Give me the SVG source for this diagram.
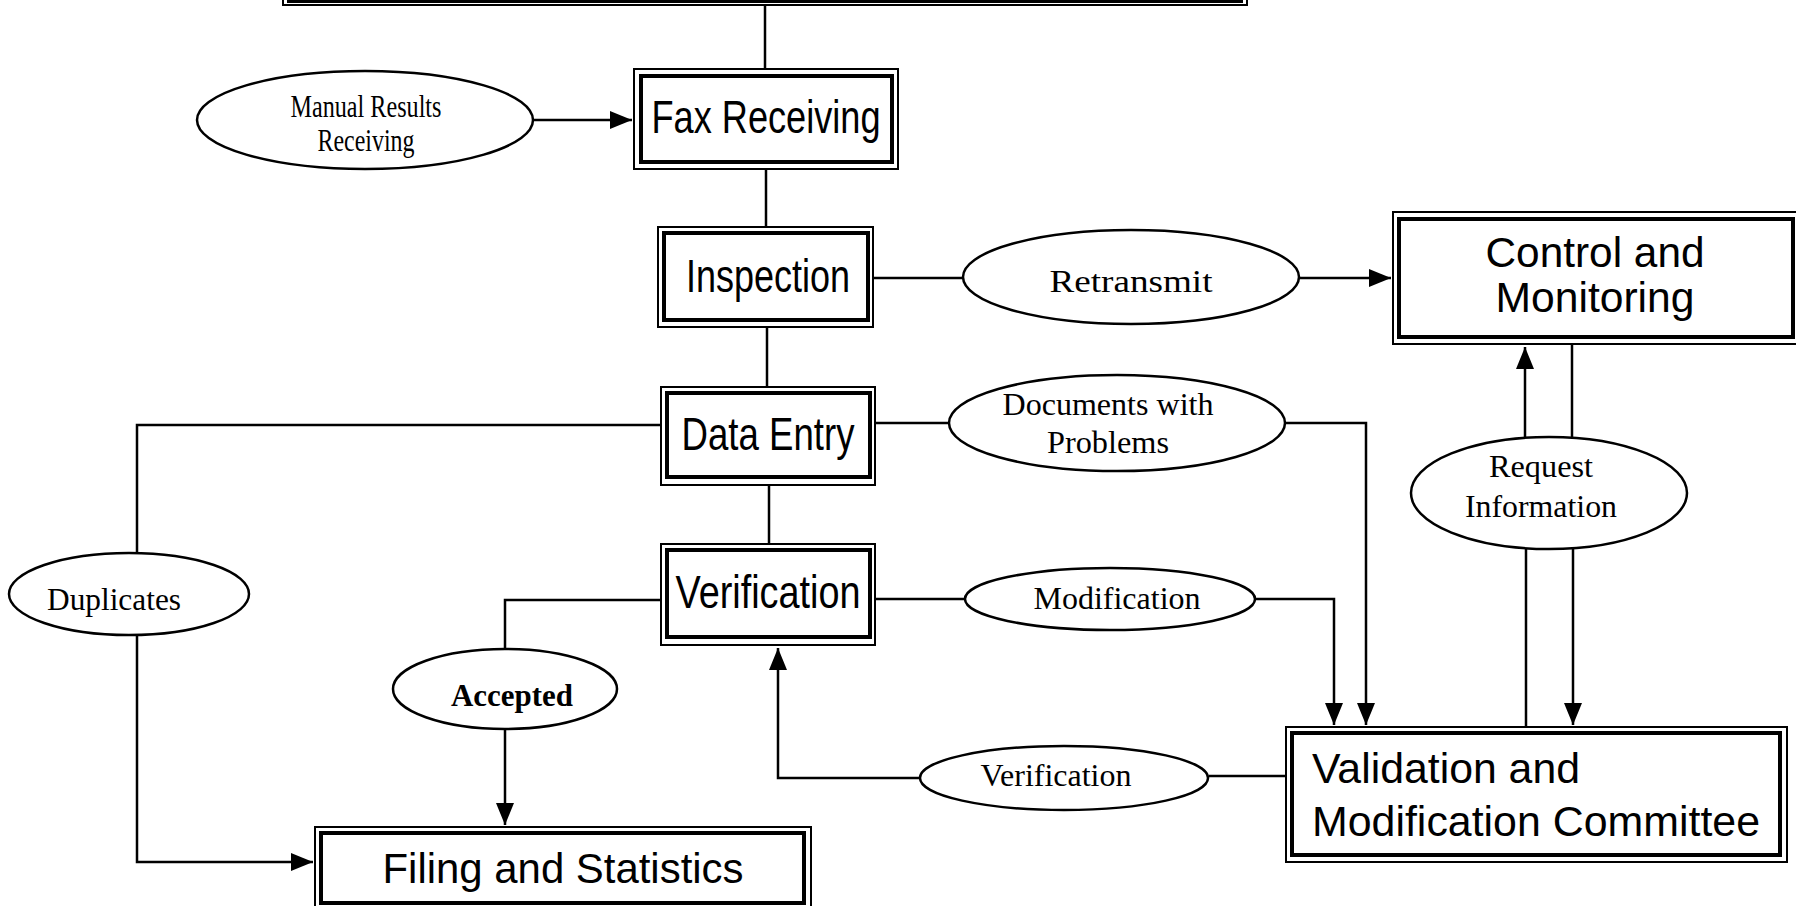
<svg xmlns="http://www.w3.org/2000/svg" width="1796" height="906" viewBox="0 0 1796 906">
<style>
.bo{fill:none;stroke:#000;stroke-width:2}
.bi{fill:none;stroke:#000;stroke-width:4}
.el{fill:#fff;stroke:#000;stroke-width:2.5}
.c{fill:none;stroke:#000;stroke-width:2.5}
.n{font-family:"Liberation Sans Narrow","Liberation Sans",Arial,sans-serif;font-size:46px;fill:#000;text-anchor:middle}
.s{font-family:"Liberation Sans",Arial,sans-serif;font-size:42px;fill:#000}
.t{font-family:"Liberation Serif","Times New Roman",serif;font-size:31px;fill:#000;text-anchor:middle}
</style>
<defs>
<marker id="ah" viewBox="0 0 22 18" refX="22" refY="9" markerWidth="22" markerHeight="18" markerUnits="userSpaceOnUse" orient="auto">
<path d="M0,0 L22,9 L0,18 z" fill="#000"/>
</marker>
</defs>
<rect width="1796" height="906" fill="#fff"/>

<g id="connectors">
<line class="c" x1="765" y1="5" x2="765" y2="69"/>
<line class="c" x1="533" y1="120" x2="632" y2="120" marker-end="url(#ah)"/>
<line class="c" x1="766" y1="169" x2="766" y2="227"/>
<line class="c" x1="767" y1="327" x2="767" y2="387"/>
<line class="c" x1="769" y1="485" x2="769" y2="544"/>
<line class="c" x1="873" y1="278" x2="963" y2="278"/>
<line class="c" x1="1299" y1="278" x2="1391" y2="278" marker-end="url(#ah)"/>
<line class="c" x1="875" y1="423" x2="949" y2="423"/>
<polyline class="c" points="1285,423 1366,423 1366,725" marker-end="url(#ah)"/>
<line class="c" x1="875" y1="599" x2="965" y2="599"/>
<polyline class="c" points="1254,599 1334,599 1334,725" marker-end="url(#ah)"/>
<line class="c" x1="1526" y1="727" x2="1526" y2="549"/>
<line class="c" x1="1525" y1="438" x2="1525" y2="347" marker-end="url(#ah)"/>
<line class="c" x1="1572" y1="344" x2="1572" y2="438"/>
<line class="c" x1="1573" y1="549" x2="1573" y2="725" marker-end="url(#ah)"/>
<line class="c" x1="1286" y1="776" x2="1209" y2="776"/>
<polyline class="c" points="920,778 778,778 778,648" marker-end="url(#ah)"/>
<polyline class="c" points="661,425 137,425 137,553"/>
<polyline class="c" points="137,635 137,862 313,862" marker-end="url(#ah)"/>
<polyline class="c" points="661,600 505,600 505,649"/>
<line class="c" x1="505" y1="730" x2="505" y2="825" marker-end="url(#ah)"/>
</g>

<g id="top-box">
<rect class="bo" x="283" y="-60" width="964" height="65"/>
<rect class="bi" x="289" y="-60" width="952" height="61"/>
</g>

<g id="manual-results">
<ellipse class="el" cx="365" cy="120" rx="168" ry="49"/>
<text class="t" x="366" y="117" font-size="21" textLength="151" lengthAdjust="spacingAndGlyphs">Manual Results</text>
<text class="t" x="366" y="151" font-size="21" textLength="97" lengthAdjust="spacingAndGlyphs">Receiving</text>
</g>

<g id="fax-receiving">
<rect class="bo" x="634" y="69" width="264" height="100"/>
<rect class="bi" x="641" y="76" width="251" height="86"/>
<text class="n" x="766" y="133" textLength="229" lengthAdjust="spacingAndGlyphs">Fax Receiving</text>
</g>

<g id="inspection">
<rect class="bo" x="658" y="227" width="215" height="100"/>
<rect class="bi" x="664" y="233" width="204" height="87"/>
<text class="n" x="768" y="292" textLength="164" lengthAdjust="spacingAndGlyphs">Inspection</text>
</g>

<g id="retransmit">
<ellipse class="el" cx="1131" cy="277" rx="168" ry="47"/>
<text class="t" x="1131" y="292" font-size="35" textLength="163" lengthAdjust="spacingAndGlyphs">Retransmit</text>
</g>

<g id="control-monitoring">
<rect class="bo" x="1393" y="212" width="410" height="132"/>
<rect class="bi" x="1399" y="219" width="394" height="118"/>
<text class="s" x="1595" y="267" text-anchor="middle" textLength="219" lengthAdjust="spacingAndGlyphs">Control and</text>
<text class="s" x="1595" y="312" text-anchor="middle" textLength="199" lengthAdjust="spacingAndGlyphs">Monitoring</text>
</g>

<g id="data-entry">
<rect class="bo" x="661" y="387" width="214" height="98"/>
<rect class="bi" x="667" y="393" width="203" height="84"/>
<text class="n" x="768" y="450" textLength="173" lengthAdjust="spacingAndGlyphs">Data Entry</text>
</g>

<g id="documents-with-problems">
<ellipse class="el" cx="1117" cy="423" rx="168" ry="48"/>
<text class="t" x="1108" y="415" textLength="211" lengthAdjust="spacingAndGlyphs">Documents with</text>
<text class="t" x="1108" y="453" textLength="122" lengthAdjust="spacingAndGlyphs">Problems</text>
</g>

<g id="request-information">
<ellipse class="el" cx="1549" cy="493" rx="138" ry="56"/>
<text class="t" x="1541" y="477" textLength="104" lengthAdjust="spacingAndGlyphs">Request</text>
<text class="t" x="1541" y="517" textLength="152" lengthAdjust="spacingAndGlyphs">Information</text>
</g>

<g id="duplicates">
<ellipse class="el" cx="129" cy="594" rx="120" ry="41"/>
<text class="t" x="114" y="610" font-size="32" textLength="134" lengthAdjust="spacingAndGlyphs">Duplicates</text>
</g>

<g id="verification">
<rect class="bo" x="661" y="544" width="214" height="101"/>
<rect class="bi" x="667" y="550" width="203" height="87"/>
<text class="n" x="768" y="608" textLength="185" lengthAdjust="spacingAndGlyphs">Verification</text>
</g>

<g id="modification">
<ellipse class="el" cx="1110" cy="599" rx="145" ry="31"/>
<text class="t" x="1117" y="609" textLength="167" lengthAdjust="spacingAndGlyphs">Modification</text>
</g>

<g id="accepted">
<ellipse class="el" cx="505" cy="689" rx="112" ry="40"/>
<text class="t" x="512" y="706" font-weight="bold" font-size="30" textLength="122" lengthAdjust="spacingAndGlyphs">Accepted</text>
</g>

<g id="verification-label">
<ellipse class="el" cx="1064" cy="778" rx="144" ry="32"/>
<text class="t" x="1056" y="786" textLength="151" lengthAdjust="spacingAndGlyphs">Verification</text>
</g>

<g id="validation-committee">
<rect class="bo" x="1286" y="727" width="501" height="135"/>
<rect class="bi" x="1292" y="733" width="488" height="122"/>
<text class="s" x="1312" y="783" textLength="268" lengthAdjust="spacingAndGlyphs">Validation and</text>
<text class="s" x="1312" y="836" textLength="448" lengthAdjust="spacingAndGlyphs">Modification Committee</text>
</g>

<g id="filing-statistics">
<rect class="bo" x="315" y="827" width="496" height="90"/>
<rect class="bi" x="321" y="833" width="483" height="70"/>
<text class="s" x="563" y="883" text-anchor="middle" font-size="41" textLength="361" lengthAdjust="spacingAndGlyphs">Filing and Statistics</text>
</g>
</svg>
